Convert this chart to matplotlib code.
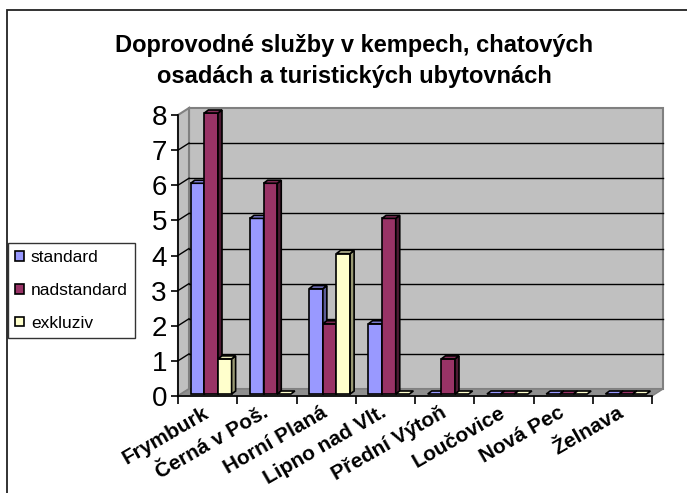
import matplotlib.pyplot as plt
from matplotlib.patches import Polygon, Rectangle
from matplotlib.transforms import ScaledTranslation

categories = ["Frymburk", "Černá v Poš.", "Horní Planá", "Lipno nad Vlt.",
              "Přední Výtoň", "Loučovice", "Nová Pec", "Želnava"]
standard = [6, 5, 3, 2, 0, 0, 0, 0]
nadstandard = [8, 6, 2, 5, 1, 0, 0, 0]
exkluziv = [1, 0, 4, 0, 0, 0, 0, 0]
series_names = ["standard", "nadstandard", "exkluziv"]
yticks = [0, 1, 2, 3, 4, 5, 6, 7, 8]
title = "Doprovodné služby v kempech, chatových\nosadách a turistických ubytovnách"

front_colors = ["#9999ff", "#993366", "#ffffcc"]
side_colors = ["#5c5c99", "#4d1a33", "#999973"]
top_colors = ["#8585e0", "#862d59", "#e6e6b8"]

plt.rcParams['font.family'] = ['Liberation Sans', 'DejaVu Sans']

W, H = 687, 493
fig = plt.figure(figsize=(W / 100, H / 100), dpi=100)

# outer chart border (only top and left edges are inside the picture)
fig.patches.append(Rectangle((7 / W, -0.1), 1.2, (H - 10) / H + 0.1,
                             transform=fig.transFigure, fill=False,
                             edgecolor="#222222", lw=1.3))

ax_l, ax_r, ax_b, ax_t = 178, 652, 396, 115
ax = fig.add_axes([ax_l / W, (H - ax_b) / H, (ax_r - ax_l) / W, (ax_b - ax_t) / H])
n = len(categories)
ax.set_xlim(0, n)
ax.set_ylim(0, 8)
ax.patch.set_visible(False)

# pixel -> data units
px = n / (ax_r - ax_l)
py = 8 / (ax_b - ax_t)

# depth of walls
wdx, wdy = 11 * px, 7 * py

# back wall, side wall, floor
ax.add_patch(Polygon([(wdx, wdy), (n + wdx, wdy), (n + wdx, 8 + wdy), (wdx, 8 + wdy)],
                     closed=True, facecolor="#c0c0c0", edgecolor="#808080", lw=1.5,
                     clip_on=False, zorder=0.5))
ax.add_patch(Polygon([(0, 0), (wdx, wdy), (wdx, 8 + wdy), (0, 8)],
                     closed=True, facecolor="#c0c0c0", edgecolor="#808080", lw=1.5,
                     clip_on=False, zorder=0.6))
ax.add_patch(Polygon([(0, 0), (n, 0), (n + wdx, wdy), (wdx, wdy)],
                     closed=True, facecolor="#8f8f8f", edgecolor="#808080", lw=1,
                     clip_on=False, zorder=0.6))
for v in yticks[1:-1]:
    ax.plot([wdx, n + wdx], [v + wdy, v + wdy], color="black", lw=1, zorder=0.7,
            clip_on=False)
    ax.plot([0, wdx], [v, v + wdy], color="black", lw=1, zorder=0.7, clip_on=False)

# bars
bw = 0.23
start = 0.215
bdx, bdy = 4 * px, 3 * py
b0 = 2 * py
values = [standard, nadstandard, exkluziv]
for i in range(n):
    for k in range(3):
        h = values[k][i]
        x = i + start + k * bw
        if h > 0:
            ax.bar(x, h, bw, bottom=b0, align="edge", color=front_colors[k],
                   edgecolor="black", lw=1.2, zorder=3, clip_on=False)
            ax.add_patch(Polygon([(x + bw, b0), (x + bw, b0 + h),
                                  (x + bw + bdx, b0 + h + bdy), (x + bw + bdx, b0 + bdy)],
                                 closed=True, facecolor=side_colors[k], edgecolor="black",
                                 lw=1.2, zorder=3, clip_on=False))
        ax.add_patch(Polygon([(x, b0 + h), (x + bw, b0 + h),
                              (x + bw + bdx, b0 + h + bdy), (x + bdx, b0 + h + bdy)],
                             closed=True, facecolor=top_colors[k] if h > 0 else front_colors[k],
                             edgecolor="black", lw=1.2, zorder=3, clip_on=False))

# axes
for s in ["top", "right"]:
    ax.spines[s].set_visible(False)
ax.spines["left"].set_linewidth(1.2)
ax.spines["bottom"].set_linewidth(1.2)
ax.set_yticks(yticks)
ax.set_yticklabels([str(v) for v in yticks], fontsize=20)
ax.tick_params(axis="y", length=5, width=1.2, pad=3)
ax.set_xticks(range(n + 1))
ax.set_xticklabels([])
ax.tick_params(axis="x", which="major", length=6, width=1.2)
ax.set_xticks([i + 0.5 for i in range(n)], minor=True)
ax.set_xticklabels(categories, minor=True, rotation=30, ha="right", va="top",
                   rotation_mode="anchor", fontsize=15, fontweight="bold")
ax.tick_params(axis="x", which="minor", length=0, pad=5)
shift = ScaledTranslation(-0.05, 0, fig.dpi_scale_trans)
for lab in ax.get_xticklabels(minor=True):
    lab.set_transform(lab.get_transform() + shift)

fig.text(354 / W, 1 - 61 / H, title, ha="center", va="center", fontsize=17,
         fontweight="bold", linespacing=1.45)

handles = [Rectangle((0, 0), 1, 1, facecolor=c, edgecolor="black", lw=1.2)
           for c in front_colors]
leg = fig.legend(handles, series_names, loc="upper left",
                 bbox_to_anchor=(8 / W, 1 - 243 / H), borderaxespad=0,
                 fontsize=12.5, frameon=True, fancybox=False, handlelength=0.5,
                 handleheight=0.5, handletextpad=0.4, labelspacing=1.02,
                 borderpad=0.42)
leg.get_frame().set_edgecolor("black")
leg.get_frame().set_linewidth(1)

fig.savefig("out.png", dpi=100)
